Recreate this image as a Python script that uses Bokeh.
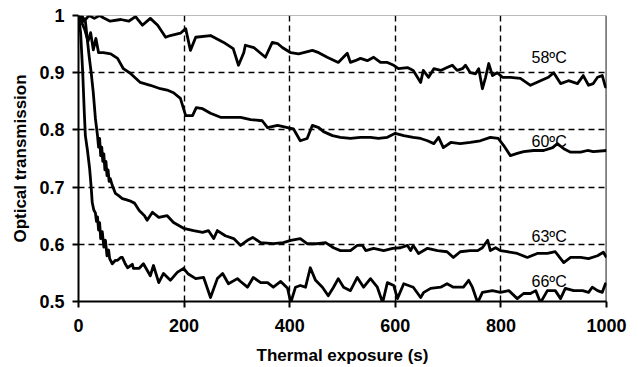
from bokeh.plotting import figure
from bokeh.models import Range1d, FixedTicker, NumeralTickFormatter, Span, ColumnDataSource
from bokeh.core.properties import value
from bokeh.embed import file_html
from bokeh.resources import INLINE

# ---- data: (time s, optical transmission) ----
s58 = [(0, 1.0), (10, 0.99), (20, 1.0), (30, 0.995), (40, 1.0), (47, 0.996), (60, 0.99), (80, 0.993),
       (95, 0.99), (108, 0.998), (121, 0.983), (136, 0.995), (150, 0.983), (165, 0.962), (174, 0.965),
       (193, 0.969), (203, 0.977), (212, 0.939), (222, 0.962), (250, 0.965), (275, 0.953), (293, 0.942),
       (303, 0.913), (313, 0.935), (316, 0.948), (332, 0.944), (345, 0.934), (354, 0.927), (367, 0.953),
       (377, 0.951), (386, 0.944), (402, 0.935), (417, 0.933), (443, 0.939), (455, 0.935), (471, 0.927),
       (492, 0.918), (509, 0.934), (515, 0.918), (524, 0.921), (534, 0.925), (547, 0.921), (559, 0.927),
       (572, 0.918), (585, 0.918), (597, 0.913), (606, 0.907), (623, 0.909), (634, 0.904), (648, 0.883),
       (653, 0.904), (663, 0.892), (673, 0.907), (686, 0.904), (698, 0.909), (708, 0.913), (717, 0.904),
       (727, 0.907), (733, 0.913), (742, 0.900), (752, 0.898), (758, 0.907), (765, 0.872), (771, 0.892),
       (777, 0.916), (784, 0.895), (793, 0.900), (803, 0.892), (818, 0.892), (837, 0.890), (856, 0.878),
       (875, 0.886), (890, 0.892), (900, 0.900), (913, 0.881), (928, 0.886), (945, 0.881), (956, 0.895),
       (966, 0.878), (975, 0.881), (983, 0.892), (992, 0.895), (998, 0.875), (1000, 0.876)]

s60 = [(0, 1.0), (5, 0.99), (12, 0.975), (18, 0.955), (23, 0.97), (28, 0.94), (33, 0.96), (38, 0.935),
       (47, 0.935), (61, 0.933), (74, 0.925), (85, 0.907), (98, 0.899), (117, 0.883), (136, 0.878),
       (155, 0.872), (170, 0.869), (180, 0.865), (193, 0.855), (203, 0.825), (216, 0.825), (223, 0.839),
       (235, 0.837), (250, 0.829), (269, 0.822), (288, 0.822), (307, 0.822), (326, 0.818), (348, 0.816),
       (358, 0.804), (377, 0.808), (396, 0.804), (407, 0.802), (420, 0.781), (433, 0.785), (443, 0.808),
       (455, 0.804), (464, 0.797), (481, 0.790), (496, 0.787), (515, 0.785), (534, 0.787), (553, 0.787),
       (568, 0.785), (585, 0.787), (600, 0.794), (616, 0.790), (634, 0.787), (648, 0.785), (661, 0.781),
       (673, 0.776), (682, 0.787), (691, 0.769), (705, 0.778), (723, 0.776), (742, 0.778), (761, 0.781),
       (780, 0.787), (795, 0.785), (805, 0.773), (818, 0.755), (831, 0.759), (843, 0.762), (862, 0.764),
       (881, 0.764), (898, 0.769), (907, 0.776), (919, 0.767), (932, 0.761), (951, 0.761), (964, 0.764),
       (975, 0.762), (1000, 0.764)]

s63 = [(0, 1.0), (6, 1.0), (13, 0.99), (20, 0.93), (24, 0.9), (28, 0.865), (32, 0.82), (36, 0.79),
       (38, 0.77), (40, 0.785), (42, 0.755), (44, 0.77), (46, 0.745), (48, 0.758), (50, 0.73),
       (52, 0.745), (54, 0.72), (56, 0.73), (58, 0.71), (60, 0.715), (64, 0.703), (70, 0.689), (76, 0.685),
       (83, 0.68), (90, 0.678), (97, 0.676), (106, 0.672), (115, 0.659), (125, 0.65), (130, 0.642),
       (140, 0.656), (152, 0.647), (168, 0.650), (180, 0.638), (199, 0.628), (218, 0.624), (235, 0.621),
       (246, 0.624), (256, 0.610), (263, 0.624), (278, 0.615), (294, 0.610), (307, 0.598), (320, 0.607),
       (330, 0.612), (345, 0.603), (369, 0.601), (388, 0.603), (402, 0.607), (420, 0.610), (433, 0.601),
       (452, 0.601), (468, 0.603), (483, 0.594), (496, 0.589), (515, 0.589), (528, 0.598), (538, 0.598),
       (544, 0.589), (559, 0.593), (578, 0.589), (595, 0.593), (610, 0.594), (623, 0.598), (629, 0.589),
       (634, 0.598), (644, 0.584), (661, 0.593), (680, 0.589), (698, 0.587), (710, 0.577), (723, 0.587),
       (742, 0.589), (756, 0.589), (765, 0.594), (775, 0.607), (780, 0.589), (790, 0.594), (799, 0.589),
       (812, 0.587), (831, 0.584), (850, 0.577), (869, 0.584), (888, 0.584), (903, 0.587), (919, 0.568),
       (932, 0.577), (951, 0.577), (966, 0.575), (983, 0.580), (994, 0.586), (1000, 0.577)]

s66 = [(0, 1.0), (4, 0.97), (8, 0.9), (11, 0.83), (13, 0.79), (17, 0.764), (21, 0.733), (24, 0.70),
       (26, 0.673), (29, 0.66), (32, 0.655), (34, 0.64), (36, 0.648), (38, 0.625), (40, 0.638),
       (42, 0.61), (45, 0.622), (48, 0.595), (51, 0.607), (54, 0.58), (57, 0.59), (59, 0.575),
       (64, 0.566), (70, 0.572), (74, 0.572), (80, 0.577), (83, 0.577), (89, 0.565), (93, 0.559),
       (102, 0.565), (104, 0.558), (115, 0.558), (123, 0.566), (136, 0.545), (142, 0.563), (152, 0.533),
       (161, 0.549), (174, 0.537), (187, 0.551), (199, 0.558), (208, 0.548), (222, 0.540), (237, 0.542),
       (250, 0.507), (263, 0.540), (273, 0.549), (284, 0.531), (301, 0.540), (307, 0.535), (320, 0.525),
       (331, 0.542), (345, 0.533), (358, 0.533), (369, 0.525), (383, 0.535), (396, 0.523), (402, 0.498),
       (411, 0.525), (420, 0.528), (430, 0.525), (439, 0.559), (449, 0.537), (462, 0.525), (473, 0.510),
       (483, 0.525), (492, 0.540), (502, 0.525), (515, 0.519), (528, 0.542), (540, 0.525), (553, 0.540),
       (566, 0.525), (576, 0.498), (585, 0.533), (597, 0.528), (604, 0.505), (616, 0.531), (634, 0.525),
       (648, 0.507), (654, 0.516), (667, 0.523), (686, 0.525), (698, 0.531), (710, 0.525), (729, 0.525),
       (739, 0.537), (746, 0.525), (756, 0.498), (765, 0.516), (784, 0.519), (799, 0.516), (815, 0.519),
       (831, 0.505), (843, 0.514), (856, 0.514), (866, 0.519), (875, 0.498), (888, 0.519), (903, 0.519),
       (913, 0.505), (922, 0.523), (938, 0.519), (955, 0.519), (966, 0.516), (973, 0.525), (983, 0.519),
       (992, 0.516), (998, 0.531), (1000, 0.528)]

series_labels = ["58ºC", "60ºC", "63ºC", "66ºC"]
label_x = [858, 858, 858, 858]
label_y = [0.927, 0.780, 0.614, 0.535]

x_ticks = [0, 200, 400, 600, 800, 1000]
y_ticks = [0.5, 0.6, 0.7, 0.8, 0.9, 1.0]
x_grid = [200, 400, 600, 800]
y_grid = [0.6, 0.7, 0.8, 0.9]

FONT = "Liberation Sans"

p = figure(width=638, height=367, output_backend="svg", toolbar_location=None,
           x_range=Range1d(0, 1000), y_range=Range1d(0.5, 1.0),
           min_border_left=78, min_border_right=32, min_border_top=15, min_border_bottom=66)
p.outline_line_color = None
p.background_fill_color = "white"
p.border_fill_color = "white"

for s in (s58, s60, s63, s66):
    xs = [a for a, b in s]
    ys = [b for a, b in s]
    p.line(xs, ys, line_color="black", line_width=2.8, line_join="round")

src = ColumnDataSource(dict(x=label_x, y=label_y, t=series_labels))
p.text(x="x", y="y", text="t", source=src, text_font=value(FONT), text_font_size="16px",
       text_align="left", text_baseline="middle", text_color="black")

# grid
p.xgrid.ticker = FixedTicker(ticks=x_grid)
p.ygrid.ticker = FixedTicker(ticks=y_grid)
for g in (p.xgrid, p.ygrid):
    g.grid_line_color = "black"
    g.grid_line_width = 1.4
    g.grid_line_dash = "6 4"

# frame border (top, right)
p.add_layout(Span(location=1.0, dimension="width", line_color="#777777", line_width=1.2))
p.add_layout(Span(location=1000, dimension="height", line_color="black", line_width=1.8))

# axes
p.xaxis.ticker = FixedTicker(ticks=x_ticks)
p.yaxis.ticker = FixedTicker(ticks=y_ticks)
p.yaxis.formatter = NumeralTickFormatter(format="0.[0]")
p.xaxis.axis_label = "Thermal exposure (s)"
p.yaxis.axis_label = "Optical transmission"
for ax in (p.xaxis, p.yaxis):
    ax.axis_line_color = "black"
    ax.axis_line_width = 2
    ax.major_tick_line_color = "black"
    ax.major_tick_line_width = 2
    ax.major_tick_out = 6
    ax.major_tick_in = 0
    ax.minor_tick_line_color = None
    ax.major_label_text_font = FONT
    ax.major_label_text_font_style = "bold"
    ax.major_label_text_font_size = "18px"
    ax.major_label_text_color = "black"
    ax.axis_label_text_font = FONT
    ax.axis_label_text_font_style = "bold"
    ax.axis_label_text_font_size = "17px"
    ax.axis_label_text_color = "black"
p.xaxis.major_label_standoff = 11
p.xaxis.axis_label_standoff = 11
p.yaxis.major_label_standoff = 8
p.yaxis.axis_label_standoff = 6

open("out.html", "w").write(file_html(p, INLINE))
